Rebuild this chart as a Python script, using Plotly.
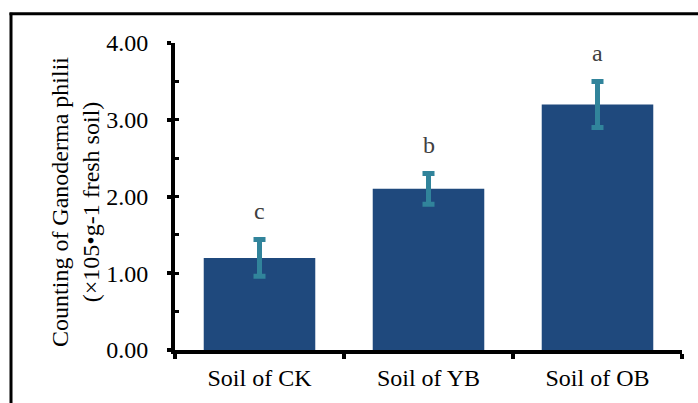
import plotly.graph_objects as go

categories = ["Soil of CK", "Soil of YB", "Soil of OB"]
values = [1.20, 2.10, 3.20]
errors = [0.24, 0.20, 0.30]
letters = ["c", "b", "a"]
y_ticks = [0, 1, 2, 3, 4]
y_ticklabels = ["0.00", "1.00", "2.00", "3.00", "4.00"]

W, H = 698, 403
L, R, T, B = 175, 16, 43, 51
pw, ph = W - L - R, H - T - B

BAR = "#1F497D"
ERR = "#31849B"
FONT = "Liberation Serif"
FS = 24

fig = go.Figure()
fig.add_trace(go.Bar(
    x=categories, y=values,
    marker=dict(color=BAR, line=dict(width=0)),
    error_y=dict(type="data", array=errors, visible=True, color=ERR, thickness=5, width=6),
    showlegend=False, hoverinfo="skip",
))
# invisible trace for the minor-tick overlay axis
fig.add_trace(go.Scatter(
    x=categories, y=values, yaxis="y2", mode="markers",
    marker=dict(opacity=0), showlegend=False, hoverinfo="skip",
))

for c, v, e, t in zip(categories, values, errors, letters):
    fig.add_annotation(x=c, y=v + e + 0.37, text=t, showarrow=False,
                       font=dict(family=FONT, size=FS, color="#404040"),
                       xanchor="center", yanchor="middle")

def px(x):
    return (x - L) / pw

def py(y):
    return (H - B - y) / ph

fig.add_annotation(
    xref="paper", yref="paper",
    x=px(76), y=py(203),
    text="Counting of Ganoderma philii<br>(×105•g-1 fresh soil)",
    textangle=-90, showarrow=False, xanchor="center", yanchor="middle",
    font=dict(family=FONT, size=FS, color="black"),
)

# outer frame (left and top edges visible)
fig.add_shape(type="line", xref="paper", yref="paper",
              x0=px(11), x1=px(11), y0=py(12.5), y1=py(420),
              line=dict(color="black", width=3))
fig.add_shape(type="line", xref="paper", yref="paper",
              x0=px(9.5), x1=px(720), y0=py(13.5), y1=py(13.5),
              line=dict(color="black", width=3))

fig.update_layout(
    width=W, height=H,
    margin=dict(l=L, r=R, t=T, b=B, pad=0),
    paper_bgcolor="white", plot_bgcolor="white",
    bargap=0.34,
    font=dict(family=FONT, size=FS, color="black"),
    xaxis=dict(
        showline=True, linecolor="black", linewidth=4,
        ticks="outside", tickson="boundaries", ticklen=5, tickwidth=4, tickcolor="black",
        tickfont=dict(family=FONT, size=FS, color="black"),
        ticklabelstandoff=3,
        showgrid=False, zeroline=False,
    ),
    yaxis=dict(
        range=[0, 4], tickvals=y_ticks, ticktext=y_ticklabels,
        showline=True, linecolor="black", linewidth=4,
        ticks="outside", ticklen=4, tickwidth=4, tickcolor="black",
        tickfont=dict(family=FONT, size=FS, color="black"),
        ticklabelstandoff=14,
        showgrid=False, zeroline=False,
    ),
    yaxis2=dict(
        range=[0, 4], overlaying="y", side="left", anchor="x",
        dtick=0.5, tick0=0, ticks="inside", ticklen=4, tickwidth=3, tickcolor="black",
        showticklabels=False, showgrid=False, zeroline=False, showline=False,
    ),
)

fig.write_html("out.html", config={"displayModeBar": False},
               post_script="document.body.style.margin='0';document.body.style.overflow='hidden';")
